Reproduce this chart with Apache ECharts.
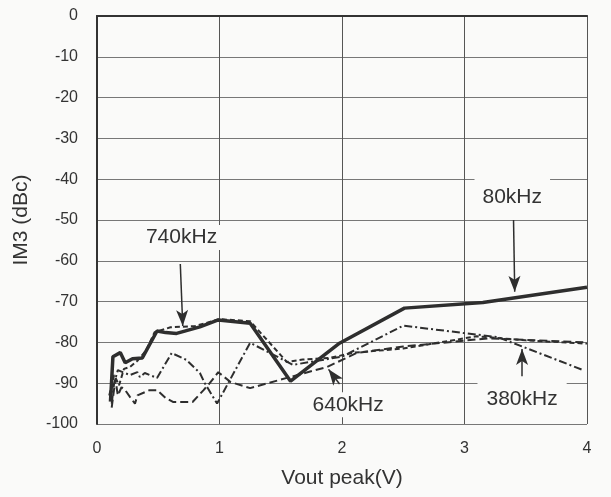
<!DOCTYPE html>
<html><head><meta charset="utf-8">
<script src="https://cdn.jsdelivr.net/npm/echarts@6/dist/echarts.min.js"></script>
<style>html,body{margin:0;padding:0;background:#fafaf9}#c{width:611px;height:497px}</style>
</head><body><div id="c"></div>
<script>
// Data (Vout peak in V, IM3 in dBc)
var x80 = [0.11, 0.13, 0.19, 0.23, 0.29, 0.37, 0.49, 0.56, 0.65, 0.84, 0.99, 1.25, 1.58, 1.98, 2.51, 3.15, 4.0];
var y80 = [-94.5, -83.5, -82.5, -85, -84, -83.8, -77.2, -77.6, -77.8, -76.2, -74.5, -75.3, -89.5, -80.2, -71.6, -70.2, -66.5];

var x740 = [0.1, 0.14, 0.18, 0.22, 0.27, 0.33, 0.4, 0.47, 0.6, 0.8, 1.0, 1.25, 1.55, 1.68, 1.9, 2.1, 2.5, 3.1, 3.5, 4.0];
var y740 = [-93, -88, -90.5, -86.5, -86, -84.5, -82, -77.5, -76.3, -76, -74.3, -74.8, -84.8, -84.2, -83.8, -82.5, -81.5, -78.5, -79.5, -80.3];

var x640 = [0.12, 0.15, 0.17, 0.2, 0.23, 0.27, 0.31, 0.33, 0.43, 0.49, 0.56, 0.62, 0.78, 0.87, 0.92, 0.99, 1.09, 1.25, 1.55, 1.88, 2.12, 2.5, 3.2, 4.0];
var y640 = [-96, -89, -93, -91, -91.7, -93.4, -95, -93, -91.7, -91.7, -93.6, -94.6, -94.6, -91.7, -90, -87.3, -89.7, -91.2, -88.7, -86, -82.6, -81, -79, -80];

var x380 = [0.12, 0.14, 0.17, 0.21, 0.27, 0.33, 0.35, 0.39, 0.49, 0.61, 0.73, 0.84, 0.88, 0.98, 1.25, 1.6, 2.0, 2.5, 3.27, 3.47, 3.97];
var y380 = [-95, -90, -86.8, -87.3, -88, -87.3, -88.5, -87.5, -88.7, -82.6, -84.3, -87.5, -90, -95, -80.1, -85.5, -83.5, -75.9, -78.7, -81, -86.8];

var xTicks = [0, 1, 2, 3, 4];
var yTicks = [0, -10, -20, -30, -40, -50, -60, -70, -80, -90, -100];

// Annotations: label text, label position, arrow start, arrow end
var labels = ['740kHz', '80kHz', '640kHz', '380kHz'];
var labelPos = [[0.69, -54.3], [3.39, -44.5], [2.05, -95.3], [3.47, -94.0]];
var arrowFrom = [[0.68, -60.8], [3.40, -49.5], [1.98, -90.2], [3.47, -88.3]];
var arrowTo = [[0.70, -76.0], [3.41, -67.6], [1.89, -86.6], [3.47, -81.6]];

function zip(xs, ys) { return xs.map(function (v, i) { return [v, ys[i]]; }); }

var chart = echarts.init(document.getElementById('c'), null, {renderer: 'canvas'});
var font = 'Liberation Sans, Arial, Helvetica, sans-serif';
var ink = '#2e2e2e';
var bg = '#fafaf9';

var arrowLines = arrowFrom.map(function (a, i) {
  return [{coord: a}, {coord: arrowTo[i]}];
});
var boxPad = [[2, 4], [12, 8], [2, 4], [12, 9]];
var labelPoints = labels.map(function (t, i) {
  return {coord: labelPos[i], value: t, label: {padding: boxPad[i]}};
});

chart.setOption({
  backgroundColor: bg,
  animation: false,
  grid: {left: 97, right: 24, top: 16, bottom: 73},
  xAxis: [{
    type: 'value', min: 0, max: 4, interval: 1,
    name: 'Vout peak(V)', nameLocation: 'middle', nameGap: 44,
    nameTextStyle: {fontFamily: font, fontSize: 21, color: '#333'},
    axisLine: {show: true, lineStyle: {color: '#444', width: 1.5}},
    axisTick: {show: false},
    axisLabel: {fontFamily: font, fontSize: 16, color: '#333', margin: 17,
      formatter: function (v) { return xTicks.indexOf(v) >= 0 ? String(v) : ''; }},
    splitLine: {show: true, lineStyle: {color: '#555', width: 1}}
  }, {
    type: 'value', min: 0, max: 4, position: 'top',
    axisLine: {show: true, lineStyle: {color: '#333', width: 2}},
    axisTick: {show: false}, axisLabel: {show: false}, splitLine: {show: false}
  }],
  yAxis: {
    type: 'value', min: -100, max: 0, interval: 10,
    name: 'IM3 (dBc)', nameLocation: 'middle', nameGap: 65,
    nameTextStyle: {fontFamily: font, fontSize: 21, color: '#333'},
    axisLine: {show: true, lineStyle: {color: '#333', width: 2}},
    axisTick: {show: false},
    axisLabel: {fontFamily: font, fontSize: 16, color: '#333', margin: 19,
      formatter: function (v) { return yTicks.indexOf(v) >= 0 ? String(v) : ''; }},
    splitLine: {show: true, lineStyle: {color: '#777', width: 1.2}}
  },
  series: [
    {name: '640kHz', type: 'line', data: zip(x640, y640), symbol: 'none',
      lineStyle: {color: ink, width: 2, type: [8, 4]}},
    {name: '380kHz', type: 'line', data: zip(x380, y380), symbol: 'none',
      lineStyle: {color: ink, width: 2, type: [8, 3, 2, 3]}},
    {name: '740kHz', type: 'line', data: zip(x740, y740), symbol: 'none',
      lineStyle: {color: ink, width: 2, type: [5, 3]}},
    {name: '80kHz', type: 'line', data: zip(x80, y80), symbol: 'none',
      lineStyle: {color: ink, width: 3.5},
      markLine: {
        silent: true, symbol: ['none', 'arrow'], symbolSize: [9, 16],
        lineStyle: {color: ink, width: 1.5, type: 'solid'},
        label: {show: false},
        data: arrowLines
      },
      markPoint: {
        silent: true, symbol: 'rect', symbolSize: 0,
        label: {show: true, position: 'inside', formatter: function (p) { return p.value; },
          fontFamily: font, fontSize: 21, color: '#333',
          backgroundColor: bg},
        data: labelPoints
      }
    }
  ]
});
</script></body></html>
